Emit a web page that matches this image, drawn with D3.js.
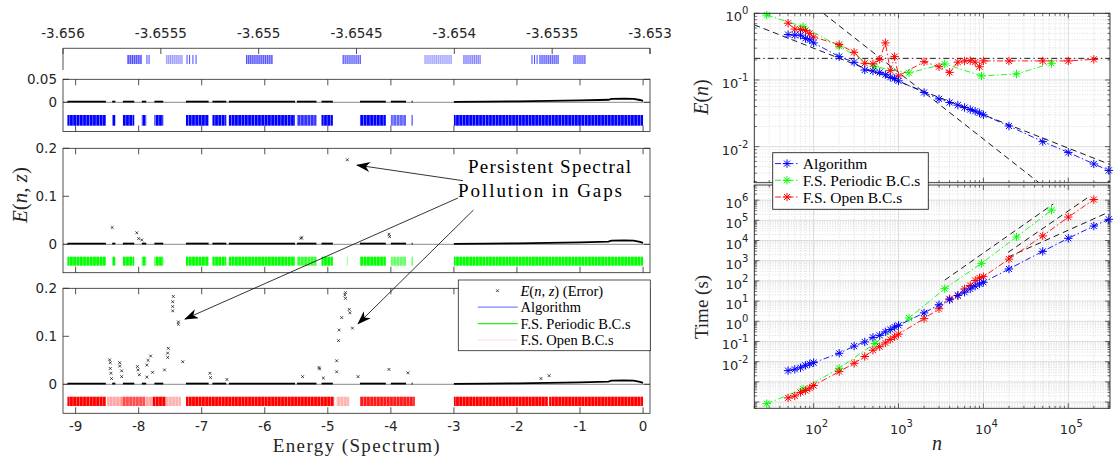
<!DOCTYPE html>
<html>
<head>
<meta charset="utf-8">
<title>Spectral pollution</title>
<script src="https://d3js.org/d3.v7.min.js"></script>
<style>
body { margin: 0; background: #fff; }
svg { display: block; }
</style>
</head>
<body>
<div id="canvas"></div>
<script>

// ---------------- left figure data ----------------
// energy axis ticks (bottom) and zoomed window ticks (top)
const energyTicks = [-9, -8, -7, -6, -5, -4, -3, -2, -1, 0];
const zoomTicks = [-3.656, -3.6555, -3.655, -3.6545, -3.654, -3.6535, -3.653];
const zoomTickLabels = ["-3.656", "-3.6555", "-3.655", "-3.6545", "-3.654", "-3.6535", "-3.653"];

// eigenvalue clusters inside the zoom window [lo, hi, density]
const zoomClusters = [
  [-3.655673, -3.655596, 0.9], [-3.655474, -3.655387, 0.5], [-3.655065, -3.654927, 0.85],
  [-3.654574, -3.654477, 0.75], [-3.654155, -3.654012, 0.45], [-3.653956, -3.653864, 0.6],
  [-3.653567, -3.653465, 0.75], [-3.653393, -3.653327, 0.7]
];
// isolated eigenvalues inside the zoom window
const zoomLines = [-3.655571, -3.655560, -3.655366, -3.655353, -3.655336, -3.655320, -3.653603, -3.653590, -3.653577];

// spectrum bands computed by each method [lo, hi, density]
const bandsAlg = [
  [-9.13, -8.52, 1], [-8.42, -8.37, 1], [-8.25, -8.07, 1], [-7.95, -7.88, 1], [-7.75, -7.61, 1],
  [-7.25, -6.89, 1], [-6.83, -6.61, 1], [-6.57, -5.52, 1], [-5.49, -5.18, 0.8], [-5.10, -4.92, 1],
  [-4.49, -4.08, 1], [-4.00, -3.76, 0.6], [-3.67, -3.655, 1], [-3.0, 0.0, 1]
];
const bandsPer = [
  [-9.13, -8.52, 1], [-8.42, -8.37, 1], [-8.25, -8.07, 1], [-7.95, -7.88, 1], [-7.75, -7.61, 1],
  [-7.25, -6.89, 1], [-6.83, -6.61, 1], [-6.57, -5.52, 1], [-5.49, -5.18, 0.8], [-5.10, -4.92, 1],
  [-4.70, -4.68, 0.4], [-4.49, -4.08, 1], [-4.00, -3.76, 0.6], [-3.67, -3.655, 1], [-3.0, 0.0, 1]
];
const bandsOpen = [
  [-9.13, -8.52, 1], [-8.50, -8.27, 0.35], [-8.27, -7.90, 0.7], [-7.90, -7.78, 0.35], [-7.78, -7.57, 1],
  [-7.57, -7.33, 0.3], [-7.25, -4.90, 1], [-4.86, -4.66, 0.3], [-4.49, -3.62, 0.9],
  [-3.0, -1.51, 1], [-1.49, 0.0, 1]
];

// error E(n,z) along the spectrum
const errInGaps = 0.0015;   // level inside the bands below -3.6
const errUpperBand = [[-3.0, 0.001], [-2.5, 0.0015], [-2.0, 0.002], [-1.5, 0.003], [-1.0, 0.004],
  [-0.7, 0.005], [-0.55, 0.0055], [-0.5, 0.0075], [-0.3, 0.008], [-0.15, 0.0075], [-0.05, 0.005], [0.0, 0.003]];

// scattered large errors
const outliersPer = [[-8.42, 0.035], [-8.03, 0.024], [-8.0, 0.012], [-7.95, 0.009], [-5.43, 0.0125],
  [-5.41, 0.014], [-4.03, 0.021], [-4.02, 0.016], [-4.69, 0.176]];
const outliersOpen = [
  [-7.45, 0.183], [-7.46, 0.172], [-7.46, 0.162], [-7.46, 0.153], [-7.37, 0.130], [-7.37, 0.125],
  [-7.30, 0.047], [-7.53, 0.075], [-7.54, 0.065], [-7.54, 0.056], [-7.59, 0.030],
  [-8.46, 0.051], [-8.45, 0.045], [-8.45, 0.033], [-8.44, 0.023], [-8.43, 0.012],
  [-8.30, 0.045], [-8.30, 0.038], [-8.27, 0.028], [-8.27, 0.016],
  [-8.02, 0.037], [-8.01, 0.030], [-7.99, 0.020], [-7.87, 0.040], [-7.85, 0.050], [-7.81, 0.059],
  [-7.87, 0.015], [-7.78, 0.025], [-6.87, 0.023], [-6.86, 0.014], [-6.60, 0.010],
  [-5.14, 0.035], [-5.13, 0.032], [-5.40, 0.016], [-5.07, 0.013],
  [-4.86, 0.049], [-4.86, 0.026], [-4.83, 0.091], [-4.82, 0.113], [-4.78, 0.139],
  [-4.73, 0.186], [-4.72, 0.191], [-4.72, 0.179], [-4.66, 0.156], [-4.65, 0.149], [-4.61, 0.117],
  [-4.52, 0.016], [-4.03, 0.031], [-3.73, 0.024], [-1.62, 0.012], [-1.49, 0.018]];

// ---------------- right figure data ----------------
const nAlg = [50, 60, 70, 80, 90, 100, 200, 300, 400, 500, 600, 700, 800, 900, 1000, 2000, 3000, 4000,
  5000, 6000, 7000, 8000, 9000, 10000, 20000, 50000, 100000, 200000, 300000];
const errAlg = [0.48, 0.47, 0.47, 0.42, 0.40, 0.36, 0.224, 0.184, 0.141, 0.136, 0.13, 0.12, 0.11, 0.105,
  0.097, 0.065, 0.052, 0.046, 0.042, 0.0386, 0.036, 0.034, 0.032, 0.030, 0.0204, 0.0119, 0.0082, 0.0055, 0.0044];
const timeAlg = [0.0036, 0.0042, 0.005, 0.0066, 0.0078, 0.0089, 0.026, 0.059, 0.095, 0.16, 0.2, 0.3, 0.39,
  0.52, 0.63, 2.6, 6.6, 11.7, 19, 27.5, 40, 55, 71, 85, 390, 2900, 12900, 52000, 112000];

const nPer = [28, 75, 200, 525, 1330, 3500, 9500, 24500, 63500];
const errPer = [0.94, 0.63, 0.32, 0.158, 0.128, 0.174, 0.115, 0.123, 0.178];
const timePer = [8.3e-5, 4.4e-4, 4.7e-3, 0.079, 1.45, 41, 740, 15000, 3.2e5];

const nOpen = [50, 60, 70, 80, 90, 100, 200, 300, 400, 500, 600, 700, 800, 900, 1000, 2000, 3000, 4000,
  5000, 6000, 7000, 8000, 9000, 10000, 20000, 50000, 100000, 200000];
const errOpen = [0.71, 0.58, 0.57, 0.55, 0.50, 0.44, 0.34, 0.26, 0.178, 0.175, 0.204, 0.36, 0.138, 0.224,
  0.115, 0.188, 0.158, 0.13, 0.185, 0.193, 0.195, 0.185, 0.158, 0.193, 0.193, 0.193, 0.193, 0.204];
const timeOpen = [1.6e-4, 2.0e-4, 3.0e-4, 3.7e-4, 4.9e-4, 6.6e-4, 3.2e-3, 8.3e-3, 0.018, 0.037, 0.055,
  0.085, 0.126, 0.17, 0.23, 1.35, 4.2, 12.9, 19, 40, 59, 105, 141, 162, 1200, 17000, 145000, 1.07e6];

// reference slopes (end points)
const refErrSlow = [[20, 0.67], [3.1e5, 0.0054]];
const refErrFast = [[130, 1], [45000, 0.00289]];
const refErrLimit = 0.211;
const refTimePer = [[3510, 110], [66400, 6.4e5]];
const refTimeOpen = [[19500, 2570], [180000, 1.6e6]];
const refTimeAlg = [[19500, 1500], [290000, 2.4e5]];

// ---------------- drawing ----------------
const axisColor = "#262626";
const sans = "DejaVu Sans, sans-serif";
const serif = "Liberation Serif, serif";

var svg = d3.select("#canvas").append("svg")
  .attr("width", 1113)
  .attr("height", 457);
var defs = svg.append("defs");

// solid band with a few thin white lines so it looks like many eigenvalues
function makeStripes(id, color, period, gap) {
  var p = defs.append("pattern")
    .attr("id", id)
    .attr("patternUnits", "userSpaceOnUse")
    .attr("width", period)
    .attr("height", 20);
  p.append("rect").attr("width", period).attr("height", 20).attr("fill", color);
  p.append("rect").attr("width", gap).attr("height", 20).attr("fill", "#fff").attr("opacity", 0.55);
}
makeStripes("stripeBlue", "#0000ff", 3.3, 0.7);
makeStripes("stripeGreen", "#00ff00", 3.3, 0.7);
makeStripes("stripeRed", "#ff0000", 3.3, 0.6);
makeStripes("stripeTop", "#3333ff", 1.9, 0.9);

// arrow head like matlab annotation
defs.append("marker")
  .attr("id", "arrowHead")
  .attr("viewBox", "0 0 14 10")
  .attr("refX", 13).attr("refY", 5)
  .attr("markerWidth", 14).attr("markerHeight", 10)
  .attr("markerUnits", "userSpaceOnUse")
  .attr("orient", "auto")
  .append("path")
  .attr("d", "M0,0 L14,5 L0,10 L4,5 Z")
  .attr("fill", "#000");

var xE = d3.scaleLinear().domain([-9.2, 0.11]).range([63, 650]);
var xZoom = d3.scaleLinear().domain([-3.656, -3.653]).range([63, 650]);

// ---- zoom window strip at the top ----
var gz = svg.append("g");
gz.append("path")
  .attr("d", `M${xZoom(-3.656)},70 V48.3 H${xZoom(-3.653)} V54`)
  .attr("fill", "none").attr("stroke", axisColor).attr("stroke-width", 0.8);
gz.selectAll(".ztick").data(zoomTicks).enter().append("line")
  .attr("x1", d => xZoom(d)).attr("x2", d => xZoom(d))
  .attr("y1", 48.3).attr("y2", 54)
  .attr("stroke", axisColor).attr("stroke-width", 0.8);
gz.selectAll(".zlabel").data(zoomTicks).enter().append("text")
  .attr("x", d => xZoom(d)).attr("y", 33)
  .attr("text-anchor", "middle").attr("dominant-baseline", "central")
  .attr("font-family", sans).attr("font-size", 13.5).attr("fill", axisColor)
  .text((d, i) => zoomTickLabels[i]);
gz.selectAll(".zcl").data(zoomClusters).enter().append("rect")
  .attr("x", d => xZoom(d[0])).attr("width", d => xZoom(d[1]) - xZoom(d[0]))
  .attr("y", 55).attr("height", 9)
  .attr("fill", "url(#stripeTop)").attr("opacity", d => d[2]);
gz.selectAll(".zl").data(zoomLines).enter().append("line")
  .attr("x1", d => xZoom(d)).attr("x2", d => xZoom(d))
  .attr("y1", 55).attr("y2", 64)
  .attr("stroke", "#3333ff").attr("stroke-width", 0.9);

// ---- the three error panels ----
var panels = [
  {top: 79.3, zero: 102.3, bottom: 131.5, yMax: 0.05, ticks: [0, 0.05], bandY: [115, 125.7],
   bands: bandsAlg, fill: "url(#stripeBlue)", outliers: []},
  {top: 148.3, zero: 244.3, bottom: 272.7, yMax: 0.2, ticks: [0, 0.1, 0.2], bandY: [256.7, 265.7],
   bands: bandsPer, fill: "url(#stripeGreen)", outliers: outliersPer},
  {top: 288.3, zero: 384.3, bottom: 413.3, yMax: 0.2, ticks: [0, 0.1, 0.2], bandY: [396.7, 406],
   bands: bandsOpen, fill: "url(#stripeRed)", outliers: outliersOpen}
];

panels.forEach(function(p) {
  p.y = d3.scaleLinear().domain([0, p.yMax]).range([p.zero, p.top]);
  var g = svg.append("g");

  // spectrum bands
  g.selectAll(".band").data(p.bands).enter().append("rect")
    .attr("x", d => xE(d[0])).attr("width", d => Math.max(1, xE(d[1]) - xE(d[0])))
    .attr("y", p.bandY[0]).attr("height", p.bandY[1] - p.bandY[0])
    .attr("fill", p.fill).attr("opacity", d => d[2]);

  // zero line
  g.append("line")
    .attr("x1", xE.range()[0]).attr("x2", xE.range()[1])
    .attr("y1", p.y(0)).attr("y2", p.y(0))
    .attr("stroke", "#8a8a8a").attr("stroke-width", 1);

  // error trace inside the bands
  var line = d3.line().x(d => xE(d[0])).y(d => p.y(d[1]));
  bandsAlg.forEach(function(b) {
    var pts = b[0] >= -3.01 ? errUpperBand : [[b[0], errInGaps], [b[1], errInGaps]];
    g.append("path").attr("d", line(pts))
      .attr("fill", "none").attr("stroke", "#000").attr("stroke-width", 1.8);
  });

  // outliers as small x markers
  g.selectAll(".out").data(p.outliers).enter().append("path")
    .attr("transform", d => `translate(${xE(d[0])},${p.y(d[1])})`)
    .attr("d", "M-1.4,-1.4L1.4,1.4M-1.4,1.4L1.4,-1.4")
    .attr("stroke", "#000").attr("stroke-width", 0.7);

  // box
  g.append("rect")
    .attr("x", xE.range()[0]).attr("y", p.top)
    .attr("width", xE.range()[1] - xE.range()[0]).attr("height", p.bottom - p.top)
    .attr("fill", "none").attr("stroke", axisColor).attr("stroke-width", 0.8);

  // ticks inside on all sides
  energyTicks.forEach(function(t) {
    g.append("line").attr("x1", xE(t)).attr("x2", xE(t)).attr("y1", p.top).attr("y2", p.top + 6)
      .attr("stroke", axisColor).attr("stroke-width", 0.8);
    g.append("line").attr("x1", xE(t)).attr("x2", xE(t)).attr("y1", p.bottom).attr("y2", p.bottom - 6)
      .attr("stroke", axisColor).attr("stroke-width", 0.8);
  });
  p.ticks.forEach(function(t) {
    g.append("line").attr("x1", xE.range()[0]).attr("x2", xE.range()[0] + 6)
      .attr("y1", p.y(t)).attr("y2", p.y(t)).attr("stroke", axisColor).attr("stroke-width", 0.8);
    g.append("line").attr("x1", xE.range()[1]).attr("x2", xE.range()[1] - 6)
      .attr("y1", p.y(t)).attr("y2", p.y(t)).attr("stroke", axisColor).attr("stroke-width", 0.8);
    g.append("text")
      .attr("x", 57).attr("y", p.y(t))
      .attr("text-anchor", "end").attr("dominant-baseline", "central")
      .attr("font-family", sans).attr("font-size", 13.5).attr("fill", axisColor)
      .text(String(t));
  });
});

// bottom energy labels
svg.selectAll(".elabel").data(energyTicks).enter().append("text")
  .attr("x", d => xE(d)).attr("y", 426)
  .attr("text-anchor", "middle").attr("dominant-baseline", "central")
  .attr("font-family", sans).attr("font-size", 13.5).attr("fill", axisColor)
  .text(d => String(d));

svg.append("text")
  .attr("x", xE(-4.55)).attr("y", 452)
  .attr("text-anchor", "middle")
  .attr("font-family", serif).attr("font-size", 19)
  .attr("textLength", 167).attr("lengthAdjust", "spacing")
  .attr("fill", "#262626")
  .text("Energy (Spectrum)");

// y label E(n, z)
var yl = svg.append("text")
  .attr("transform", "translate(27,195) rotate(-90)")
  .attr("text-anchor", "middle")
  .attr("font-family", serif).attr("font-size", 21).attr("fill", "#262626");
yl.append("tspan").attr("font-style", "italic").text("E");
yl.append("tspan").text("(");
yl.append("tspan").attr("font-style", "italic").text("n");
yl.append("tspan").text(", ");
yl.append("tspan").attr("font-style", "italic").text("z");
yl.append("tspan").text(")");

// annotation text and arrows (placed in panel 2 / panel 3 coordinates)
var p2 = panels[1], p3 = panels[2];
svg.append("text")
  .attr("x", xE(-2.777)).attr("y", p2.y(0.148))
  .attr("font-family", serif).attr("font-size", 19)
  .attr("textLength", 163).attr("lengthAdjust", "spacing")
  .text("Persistent Spectral");
svg.append("text")
  .attr("x", xE(-2.935)).attr("y", p2.y(0.099))
  .attr("font-family", serif).attr("font-size", 19)
  .attr("textLength", 164).attr("lengthAdjust", "spacing")
  .text("Pollution in Gaps");

var arrows = [
  {x1: xE(-2.856), y1: p2.y(0.1325), x2: xE(-4.537), y2: p2.y(0.165)},
  {x1: xE(-2.935), y1: p2.y(0.0965), x2: xE(-7.265), y2: p3.y(0.136)},
  {x1: xE(-2.689), y1: p2.y(0.0715), x2: xE(-4.521), y2: p3.y(0.126)}
];
svg.selectAll(".arrow").data(arrows).enter().append("line")
  .attr("x1", d => d.x1).attr("y1", d => d.y1)
  .attr("x2", d => d.x2).attr("y2", d => d.y2)
  .attr("stroke", "#000").attr("stroke-width", 0.8)
  .attr("marker-end", "url(#arrowHead)");

// left legend
var lg = svg.append("g");
lg.append("rect").attr("x", 458.3).attr("y", 280).attr("width", 192).attr("height", 70.7)
  .attr("fill", "#fff").attr("stroke", axisColor).attr("stroke-width", 0.8);
var leftLegend = [
  {label: "err", color: null},
  {label: "Algorithm", color: "#8080ff"},
  {label: "F.S. Periodic B.C.s", color: "#22ee22"},
  {label: "F.S. Open B.C.s", color: "#ffdfe4"}
];
leftLegend.forEach(function(d, i) {
  var yy = 290.7 + i * 16.5;
  if (d.color) {
    lg.append("line").attr("x1", 477.7).attr("x2", 517.7).attr("y1", yy).attr("y2", yy)
      .attr("stroke", d.color).attr("stroke-width", 1.2);
  } else {
    lg.append("path").attr("transform", `translate(497.5,${yy})`)
      .attr("d", "M-1.4,-1.4L1.4,1.4M-1.4,1.4L1.4,-1.4")
      .attr("stroke", "#000").attr("stroke-width", 0.7);
  }
  var t = lg.append("text").attr("x", 520.5).attr("y", yy)
    .attr("dominant-baseline", "central")
    .attr("font-family", serif).attr("font-size", 14.5).attr("fill", "#000");
  if (d.label === "err") {
    t.append("tspan").attr("font-style", "italic").text("E");
    t.append("tspan").text("(");
    t.append("tspan").attr("font-style", "italic").text("n");
    t.append("tspan").text(", ");
    t.append("tspan").attr("font-style", "italic").text("z");
    t.append("tspan").text(") (Error)");
  } else {
    t.text(d.label);
  }
});

// ---------------- right figure ----------------
var xR = d3.scaleLog().domain([20, 3.1e5]).range([754.3, 1110]);
var yErr = d3.scaleLog().domain([2.88e-3, 1]).range([182.7, 13.3]);
var yTime = d3.scaleLog().domain([Math.pow(10, -4.31), Math.pow(10, 6.75)]).range([408.3, 185]);

function logTicks(scale) {
  var dom = scale.domain();
  var lo = Math.floor(Math.log10(dom[0])), hi = Math.ceil(Math.log10(dom[1]));
  var major = [], minor = [];
  for (var k = lo; k <= hi; k++) {
    for (var m = 1; m <= 9; m++) {
      var v = m * Math.pow(10, k);
      if (v < dom[0] * 0.999 || v > dom[1] * 1.001) continue;
      if (m === 1) major.push(v); else minor.push(v);
    }
  }
  return {major: major, minor: minor};
}

function drawLogAxes(y, labelExps) {
  var g = svg.append("g");
  var x0 = xR.range()[0], x1 = xR.range()[1];
  var y0 = y.range()[1], y1 = y.range()[0];
  var xt = logTicks(xR), yt = logTicks(y);

  // minor grid
  g.selectAll(".mgx").data(xt.minor).enter().append("line")
    .attr("x1", d => xR(d)).attr("x2", d => xR(d)).attr("y1", y0).attr("y2", y1)
    .attr("stroke", "#c8c8c8").attr("stroke-width", 0.6).attr("stroke-dasharray", "1,1.6");
  g.selectAll(".mgy").data(yt.minor).enter().append("line")
    .attr("y1", d => y(d)).attr("y2", d => y(d)).attr("x1", x0).attr("x2", x1)
    .attr("stroke", "#c8c8c8").attr("stroke-width", 0.6).attr("stroke-dasharray", "1,1.6");
  // major grid
  g.selectAll(".gx").data(xt.major).enter().append("line")
    .attr("x1", d => xR(d)).attr("x2", d => xR(d)).attr("y1", y0).attr("y2", y1)
    .attr("stroke", "#dcdcdc").attr("stroke-width", 1);
  g.selectAll(".gy").data(yt.major).enter().append("line")
    .attr("y1", d => y(d)).attr("y2", d => y(d)).attr("x1", x0).attr("x2", x1)
    .attr("stroke", "#dcdcdc").attr("stroke-width", 1);

  // ticks inside
  xt.major.concat(xt.minor).forEach(function(v) {
    var len = xt.major.indexOf(v) >= 0 ? 5 : 2.5;
    g.append("line").attr("x1", xR(v)).attr("x2", xR(v)).attr("y1", y1).attr("y2", y1 - len)
      .attr("stroke", axisColor).attr("stroke-width", 0.7);
    g.append("line").attr("x1", xR(v)).attr("x2", xR(v)).attr("y1", y0).attr("y2", y0 + len)
      .attr("stroke", axisColor).attr("stroke-width", 0.7);
  });
  yt.major.concat(yt.minor).forEach(function(v) {
    var len = yt.major.indexOf(v) >= 0 ? 5 : 2.5;
    g.append("line").attr("y1", y(v)).attr("y2", y(v)).attr("x1", x0).attr("x2", x0 + len)
      .attr("stroke", axisColor).attr("stroke-width", 0.7);
    g.append("line").attr("y1", y(v)).attr("y2", y(v)).attr("x1", x1).attr("x2", x1 - len)
      .attr("stroke", axisColor).attr("stroke-width", 0.7);
  });

  // y labels
  labelExps.forEach(function(k) {
    var t = g.append("text")
      .attr("x", x0 - 6).attr("y", y(Math.pow(10, k)) + 3)
      .attr("text-anchor", "end").attr("dominant-baseline", "central")
      .attr("font-family", sans).attr("font-size", 13).attr("fill", axisColor);
    t.append("tspan").text("10");
    t.append("tspan").attr("dy", -6).attr("font-size", 10).text(String(k));
  });
  return g;
}

function starPath(r) {
  var a = r * 0.72;
  return `M${-r},0H${r}M0,${-r}V${r}M${-a},${-a}L${a},${a}M${-a},${a}L${a},${-a}`;
}

function drawSeries(y, ns, vals, color) {
  var pts = ns.map((n, i) => [n, vals[i]]);
  var line = d3.line().x(d => xR(d[0])).y(d => y(d[1]));
  svg.append("path").attr("d", line(pts))
    .attr("fill", "none").attr("stroke", color).attr("stroke-width", 0.9)
    .attr("stroke-dasharray", "6,2.5,1.5,2.5");
  svg.selectAll(null).data(pts).enter().append("path")
    .attr("transform", d => `translate(${xR(d[0])},${y(d[1])})`)
    .attr("d", starPath(4.2))
    .attr("fill", "none").attr("stroke", color).attr("stroke-width", 1);
}

// clip regions for the two plots
function makeClip(id, y) {
  defs.append("clipPath").attr("id", id).append("rect")
    .attr("x", xR.range()[0]).attr("y", y.range()[1])
    .attr("width", xR.range()[1] - xR.range()[0]).attr("height", y.range()[0] - y.range()[1]);
}
makeClip("clipErr", yErr);
makeClip("clipTime", yTime);

function drawRef(y, clipId, pts, dash) {
  var line = d3.line().x(d => xR(d[0])).y(d => y(d[1]));
  svg.append("path").attr("d", line(pts))
    .attr("fill", "none").attr("stroke", "#000").attr("stroke-width", 0.9)
    .attr("stroke-dasharray", dash)
    .attr("clip-path", `url(#${clipId})`);
}

// top plot: error
drawLogAxes(yErr, [0, -1, -2]);
drawRef(yErr, "clipErr", refErrSlow, "6,4");
drawRef(yErr, "clipErr", refErrFast, "6,4");
drawRef(yErr, "clipErr", [[20, refErrLimit], [3.1e5, refErrLimit]], "6,3,1.5,3");
drawSeries(yErr, nPer, errPer, "#00ff00");
drawSeries(yErr, nOpen, errOpen, "#ff0000");
drawSeries(yErr, nAlg, errAlg, "#0000ff");

// bottom plot: time
drawLogAxes(yTime, [-2, -1, 0, 1, 2, 3, 4, 5, 6]);
drawRef(yTime, "clipTime", refTimePer, "6,4");
drawRef(yTime, "clipTime", refTimeOpen, "6,4");
drawRef(yTime, "clipTime", refTimeAlg, "6,4");
drawSeries(yTime, nPer, timePer, "#00ff00");
drawSeries(yTime, nOpen, timeOpen, "#ff0000");
drawSeries(yTime, nAlg, timeAlg, "#0000ff");

// frames
[yErr, yTime].forEach(function(y) {
  svg.append("rect")
    .attr("x", xR.range()[0]).attr("y", y.range()[1])
    .attr("width", xR.range()[1] - xR.range()[0]).attr("height", y.range()[0] - y.range()[1])
    .attr("fill", "none").attr("stroke", axisColor).attr("stroke-width", 0.9);
});

// x labels
[100, 1000, 10000, 100000].forEach(function(v) {
  var t = svg.append("text")
    .attr("x", xR(v) + 3).attr("y", 428.5)
    .attr("text-anchor", "middle").attr("dominant-baseline", "central")
    .attr("font-family", sans).attr("font-size", 13).attr("fill", axisColor);
  t.append("tspan").text("10");
  t.append("tspan").attr("dy", -6).attr("font-size", 10).text(String(Math.round(Math.log10(v))));
});

// axis titles
svg.append("text").attr("x", 937).attr("y", 450)
  .attr("text-anchor", "middle").attr("font-family", serif).attr("font-size", 20)
  .attr("font-style", "italic").attr("fill", "#262626").text("n");
var ey = svg.append("text").attr("transform", "translate(708,97) rotate(-90)")
  .attr("text-anchor", "middle").attr("font-family", serif).attr("font-size", 20).attr("fill", "#262626");
ey.append("tspan").attr("font-style", "italic").text("E");
ey.append("tspan").text("(");
ey.append("tspan").attr("font-style", "italic").text("n");
ey.append("tspan").text(")");
svg.append("text").attr("transform", "translate(708,307) rotate(-90)")
  .attr("text-anchor", "middle").attr("font-family", serif).attr("font-size", 19)
  .attr("fill", "#262626").text("Time (s)");

// right legend
var rl = svg.append("g");
rl.append("rect").attr("x", 772.7).attr("y", 152.7).attr("width", 155.6).attr("height", 56.6)
  .attr("fill", "#fff").attr("stroke", axisColor).attr("stroke-width", 0.9);
var rightLegend = [
  {label: "Algorithm", color: "#0000ff"},
  {label: "F.S. Periodic B.C.s", color: "#00ff00"},
  {label: "F.S. Open B.C.s", color: "#ff0000"}
];
rightLegend.forEach(function(d, i) {
  var yy = 163.6 + i * 16.7;
  rl.append("line").attr("x1", 775).attr("x2", 799).attr("y1", yy).attr("y2", yy)
    .attr("stroke", d.color).attr("stroke-width", 0.9).attr("stroke-dasharray", "6,2.5,1.5,2.5");
  rl.append("path").attr("transform", `translate(787,${yy})`).attr("d", starPath(4.2))
    .attr("fill", "none").attr("stroke", d.color).attr("stroke-width", 1);
  rl.append("text").attr("x", 802.7).attr("y", yy)
    .attr("dominant-baseline", "central")
    .attr("font-family", serif).attr("font-size", 15.5).attr("fill", "#000")
    .text(d.label);
});

</script>
</body>
</html>
